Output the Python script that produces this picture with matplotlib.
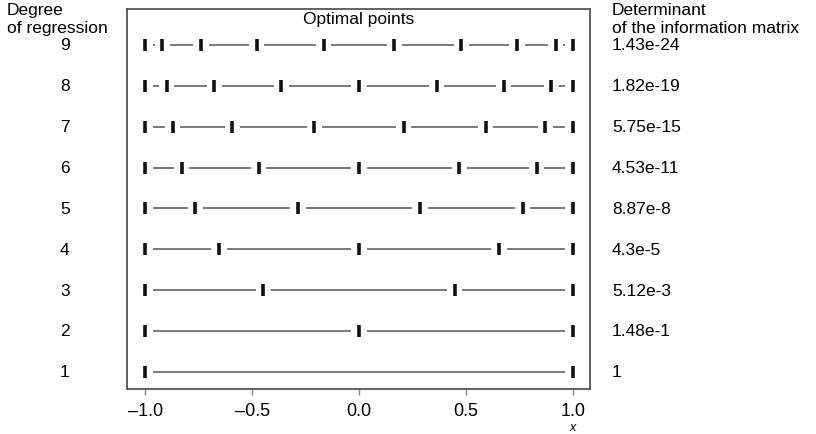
import matplotlib
matplotlib.use("Agg")
import matplotlib.pyplot as plt
from matplotlib.transforms import blended_transform_factory

plt.rcParams['font.family'] = ['Liberation Sans', 'DejaVu Sans']

# degree of regression -> optimal design points on [-1, 1]
degrees = [1, 2, 3, 4, 5, 6, 7, 8, 9]
points = [
    [-1.0, 1.0],
    [-1.0, 0.0, 1.0],
    [-1.0, -0.447, 0.447, 1.0],
    [-1.0, -0.655, 0.0, 0.655, 1.0],
    [-1.0, -0.765, -0.285, 0.285, 0.765, 1.0],
    [-1.0, -0.830, -0.469, 0.0, 0.469, 0.830, 1.0],
    [-1.0, -0.872, -0.592, -0.209, 0.209, 0.592, 0.872, 1.0],
    [-1.0, -0.900, -0.677, -0.363, 0.0, 0.363, 0.677, 0.900, 1.0],
    [-1.0, -0.920, -0.739, -0.478, -0.165, 0.165, 0.478, 0.739, 0.920, 1.0],
]
determinants = ["1", "1.48e-1", "5.12e-3", "4.3e-5", "8.87e-8",
                "4.53e-11", "5.75e-15", "1.82e-19", "1.43e-24"]
xticks = [-1.0, -0.5, 0.0, 0.5, 1.0]

GAP = 0.036  # blank space either side of a point marker (data units)
FS = 12.5

fig = plt.figure(figsize=(8.16, 4.35), dpi=100)
ax = fig.add_axes([0.1556, 0.1034, 0.5674, 0.8736])

for d, pts in zip(degrees, points):
    for a, b in zip(pts[:-1], pts[1:]):
        if b - a > 2 * GAP:
            ax.plot([a + GAP, b - GAP], [d, d], color='#555555', lw=1.1,
                    solid_capstyle='butt')
        else:
            ax.plot([(a + b) / 2], [d], marker='.', ms=2, color='#777777')
    ax.plot(pts, [d] * len(pts), linestyle='none', marker='|', ms=8,
            mew=2.6, color='#111111')

ax.set_xlim(-1.085, 1.08)
ax.set_ylim(0.58, 9.88)
ax.set_yticks([])
ax.set_xticks(xticks)
ax.set_xticklabels([f"{t:.1f}".replace("-", "\u2013") for t in xticks], fontsize=FS + 0.5)
ax.tick_params(axis='x', direction='out', length=4, width=1, color='#888888', pad=5)
for s in ax.spines.values():
    s.set_color('#555555')
    s.set_linewidth(1.3)

ax.text(0.5, 0.996, "Optimal points", transform=ax.transAxes, ha='center',
        va='top', fontsize=FS)

tr = blended_transform_factory(ax.transAxes, ax.transData)
for d, det in zip(degrees, determinants):
    ax.text(-0.134, d, str(d), transform=tr, ha='center', va='center', fontsize=FS)
    ax.text(1.0475, d, det, transform=tr, ha='left', va='center', fontsize=FS)

fig.text(0.008, 0.992, "Degree\nof regression", ha='left', va='top',
         fontsize=FS, linespacing=1.22)
fig.text(0.750, 0.992, "Determinant\nof the information matrix", ha='left',
         va='top', fontsize=FS, linespacing=1.22)

fig.text(573 / 816, 0.016, "x", ha='center', va='center', fontsize=9,
         style='italic')

fig.savefig("out.png", dpi=100)
